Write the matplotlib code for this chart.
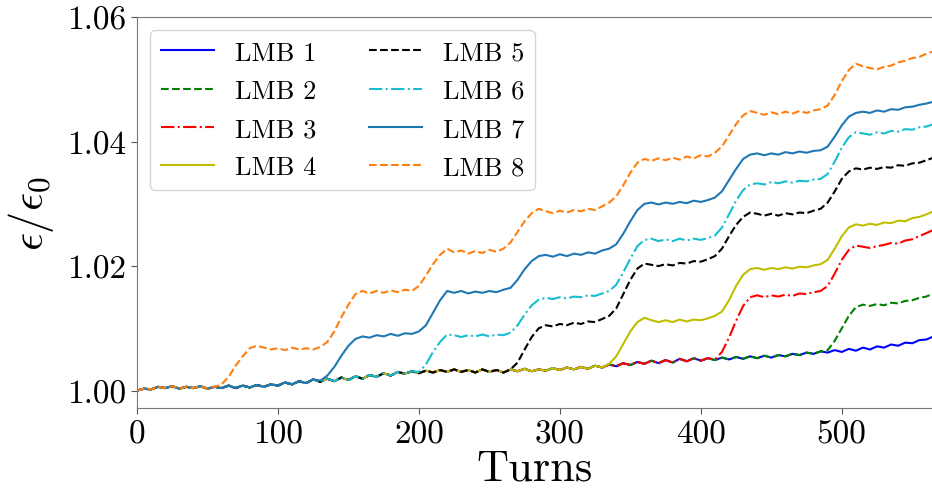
import matplotlib
matplotlib.use("Agg")
import matplotlib.pyplot as plt
import numpy as np

plt.rcParams['font.family'] = ['cmr10', 'DejaVu Serif']
plt.rcParams['mathtext.fontset'] = 'cm'
plt.rcParams['axes.formatter.use_mathtext'] = True

turns = list(range(0, 570, 5))

# LMB 1 (also the common path before each beam's first jump)
lmb1 = [1.0000, 1.0003, 1.0002, 1.0006, 1.0004, 1.0007, 1.0003, 1.0006, 1.0004, 1.0007,
        1.0003, 1.0006, 1.0004, 1.0008, 1.0004, 1.0008, 1.0005, 1.0009, 1.0006, 1.0010,
        1.0008, 1.0013, 1.0010, 1.0015, 1.0012, 1.0018, 1.0014, 1.0019, 1.0015, 1.0021,
        1.0017, 1.0023, 1.0019, 1.0025, 1.0022, 1.0028, 1.0024, 1.0030, 1.0027, 1.0031,
        1.0028, 1.0032, 1.0029, 1.0033, 1.0030, 1.0034, 1.0030, 1.0033, 1.0029, 1.0034,
        1.0030, 1.0033, 1.0029, 1.0034, 1.0031, 1.0035, 1.0031, 1.0034, 1.0032, 1.0036,
        1.0033, 1.0037, 1.0034, 1.0038, 1.0035, 1.0040, 1.0037, 1.0042, 1.0039, 1.0044,
        1.0041, 1.0046, 1.0043, 1.0048, 1.0044, 1.0049, 1.0045, 1.0051, 1.0047, 1.0052,
        1.0048, 1.0052, 1.0049, 1.0053, 1.0050, 1.0054, 1.0051, 1.0055, 1.0052, 1.0056,
        1.0053, 1.0057, 1.0055, 1.0059, 1.0057, 1.0061, 1.0059, 1.0063, 1.0061, 1.0065,
        1.0062, 1.0067, 1.0064, 1.0069, 1.0066, 1.0071, 1.0069, 1.0074, 1.0072, 1.0077,
        1.0076, 1.0081, 1.0082, 1.0087]

# values after each beam leaves the common path (start turn given)
lmb2_start = 490
lmb2_tail = [1.0065, 1.0080, 1.0100, 1.0120, 1.0134, 1.0138, 1.0136, 1.0139, 1.0137, 1.0141,
             1.0140, 1.0144, 1.0145, 1.0149, 1.0151, 1.0156]

lmb3_start = 410
lmb3_tail = [1.0050, 1.0062, 1.0085, 1.0112, 1.0136, 1.0150, 1.0153, 1.0150, 1.0153, 1.0151,
             1.0154, 1.0152, 1.0156, 1.0155, 1.0158, 1.0160, 1.0168, 1.0188, 1.0210, 1.0226,
             1.0233, 1.0231, 1.0229, 1.0232, 1.0234, 1.0237, 1.0236, 1.0241, 1.0243, 1.0248,
             1.0253, 1.0258]

lmb4_start = 335
lmb4_tail = [1.0043, 1.0055, 1.0075, 1.0095, 1.0110, 1.0117, 1.0113, 1.0110, 1.0113, 1.0110,
             1.0114, 1.0111, 1.0114, 1.0113, 1.0116, 1.0120, 1.0127, 1.0145, 1.0168, 1.0186,
             1.0195, 1.0197, 1.0194, 1.0197, 1.0195, 1.0198, 1.0196, 1.0199, 1.0198, 1.0201,
             1.0203, 1.0210, 1.0228, 1.0248, 1.0262, 1.0267, 1.0265, 1.0268, 1.0266, 1.0270,
             1.0269, 1.0273, 1.0272, 1.0277, 1.0279, 1.0283, 1.0288]

lmb5_start = 265
lmb5_tail = [1.0034, 1.0045, 1.0066, 1.0086, 1.0100, 1.0105, 1.0103, 1.0107, 1.0105, 1.0109,
             1.0107, 1.0111, 1.0110, 1.0115, 1.0120, 1.0132, 1.0155, 1.0178, 1.0196, 1.0204,
             1.0202, 1.0200, 1.0203, 1.0201, 1.0205, 1.0204, 1.0208, 1.0207, 1.0211, 1.0216,
             1.0228, 1.0248, 1.0266, 1.0279, 1.0286, 1.0284, 1.0281, 1.0284, 1.0281, 1.0285,
             1.0283, 1.0286, 1.0285, 1.0289, 1.0292, 1.0302, 1.0320, 1.0340, 1.0352, 1.0357,
             1.0355, 1.0358, 1.0356, 1.0359, 1.0358, 1.0362, 1.0361, 1.0365, 1.0366, 1.0370,
             1.0374]

lmb6_start = 200
lmb6_tail = [1.0030, 1.0042, 1.0062, 1.0078, 1.0090, 1.0089, 1.0086, 1.0089, 1.0087, 1.0090,
             1.0087, 1.0090, 1.0089, 1.0093, 1.0105, 1.0122, 1.0137, 1.0146, 1.0149, 1.0147,
             1.0150, 1.0148, 1.0151, 1.0150, 1.0153, 1.0152, 1.0156, 1.0160, 1.0170, 1.0190,
             1.0212, 1.0232, 1.0242, 1.0244, 1.0240, 1.0243, 1.0240, 1.0244, 1.0241, 1.0244,
             1.0242, 1.0245, 1.0249, 1.0262, 1.0283, 1.0305, 1.0322, 1.0331, 1.0333, 1.0331,
             1.0335, 1.0333, 1.0336, 1.0334, 1.0337, 1.0336, 1.0339, 1.0340, 1.0348, 1.0368,
             1.0390, 1.0407, 1.0415, 1.0413, 1.0411, 1.0415, 1.0413, 1.0417, 1.0416, 1.0420,
             1.0419, 1.0423, 1.0424, 1.0428]

lmb7_start = 130
lmb7_tail = [1.0016, 1.0024, 1.0038, 1.0056, 1.0072, 1.0083, 1.0087, 1.0085, 1.0089, 1.0087,
             1.0091, 1.0088, 1.0092, 1.0091, 1.0095, 1.0105, 1.0125, 1.0145, 1.0160, 1.0157,
             1.0160, 1.0156, 1.0159, 1.0157, 1.0160, 1.0158, 1.0162, 1.0165, 1.0178, 1.0195,
             1.0208, 1.0216, 1.0218, 1.0215, 1.0219, 1.0216, 1.0220, 1.0218, 1.0222, 1.0220,
             1.0225, 1.0228, 1.0235, 1.0252, 1.0272, 1.0290, 1.0300, 1.0302, 1.0299, 1.0302,
             1.0300, 1.0303, 1.0301, 1.0305, 1.0303, 1.0306, 1.0310, 1.0320, 1.0338, 1.0356,
             1.0372, 1.0379, 1.0381, 1.0378, 1.0381, 1.0379, 1.0383, 1.0381, 1.0384, 1.0382,
             1.0385, 1.0386, 1.0392, 1.0408, 1.0426, 1.0440, 1.0446, 1.0448, 1.0446, 1.0450,
             1.0448, 1.0452, 1.0451, 1.0455, 1.0456, 1.0459, 1.0461, 1.0464]

lmb8_start = 60
lmb8_tail = [1.0010, 1.0022, 1.0040, 1.0055, 1.0068, 1.0072, 1.0069, 1.0066, 1.0068, 1.0065,
             1.0069, 1.0066, 1.0068, 1.0066, 1.0070, 1.0078, 1.0095, 1.0118, 1.0138, 1.0155,
             1.0160, 1.0156, 1.0160, 1.0157, 1.0161, 1.0158, 1.0162, 1.0160, 1.0168, 1.0185,
             1.0203, 1.0218, 1.0228, 1.0222, 1.0225, 1.0220, 1.0224, 1.0221, 1.0226, 1.0223,
             1.0228, 1.0238, 1.0255, 1.0272, 1.0285, 1.0292, 1.0288, 1.0285, 1.0289, 1.0286,
             1.0290, 1.0288, 1.0292, 1.0290, 1.0296, 1.0302, 1.0312, 1.0330, 1.0350, 1.0366,
             1.0372, 1.0369, 1.0373, 1.0370, 1.0374, 1.0371, 1.0376, 1.0373, 1.0378, 1.0376,
             1.0382, 1.0392, 1.0410, 1.0428, 1.0442, 1.0449, 1.0446, 1.0443, 1.0447, 1.0444,
             1.0448, 1.0445, 1.0449, 1.0446, 1.0450, 1.0452, 1.0458, 1.0475, 1.0497, 1.0515,
             1.0525, 1.0521, 1.0518, 1.0516, 1.0520, 1.0522, 1.0527, 1.0530, 1.0534, 1.0536,
             1.0541, 1.0545]

labels = ['LMB 1', 'LMB 2', 'LMB 3', 'LMB 4', 'LMB 5', 'LMB 6', 'LMB 7', 'LMB 8']
colors = ['blue', 'green', 'red', '#bfbf00', 'black', '#17becf', '#1f77b4', '#ff7f0e']
styles = ['-', '--', '-.', '-', '--', '-.', '-', '--']

xticks = [0, 100, 200, 300, 400, 500]
xticklabels = ['0', '100', '200', '300', '400', '500']
yticks = [1.00, 1.02, 1.04, 1.06]
yticklabels = ['1.00', '1.02', '1.04', '1.06']


def full(start, tail):
    k = turns.index(start)
    return lmb1[:k] + tail


series = [lmb1,
          full(lmb2_start, lmb2_tail),
          full(lmb3_start, lmb3_tail),
          full(lmb4_start, lmb4_tail),
          full(lmb5_start, lmb5_tail),
          full(lmb6_start, lmb6_tail),
          full(lmb7_start, lmb7_tail),
          full(lmb8_start, lmb8_tail)]

fig = plt.figure(figsize=(9.32, 4.89), dpi=100)
ax = fig.add_axes([0.147, 0.1636, 0.853, 0.7995])

for ys, lab, c, ls in zip(series, labels, colors, styles):
    ax.plot(turns[:len(ys)], ys, ls, color=c, lw=1.5, label=lab)

ax.set_xlim(0, 564)
ax.set_ylim(0.9972, 1.06)
ax.set_xticks(xticks)
ax.set_xticklabels(xticklabels)
ax.set_yticks(yticks)
ax.set_yticklabels(yticklabels)
ax.tick_params(labelsize=24, length=4, width=0.8, color='#555555', pad=4)
for s in ['left', 'bottom', 'top']:
    ax.spines[s].set_color('#777777')
ax.spines['right'].set_visible(False)

ax.set_xlabel('Turns', fontsize=32, labelpad=0)
ax.set_ylabel(r'$\epsilon/\epsilon_0$', fontsize=32, labelpad=8)

ax.legend(loc='upper left', ncol=2, fontsize=19, frameon=True, fancybox=True,
          handlelength=2.0, columnspacing=2.0, labelspacing=0.55)

fig.savefig('out.png', dpi=100)
